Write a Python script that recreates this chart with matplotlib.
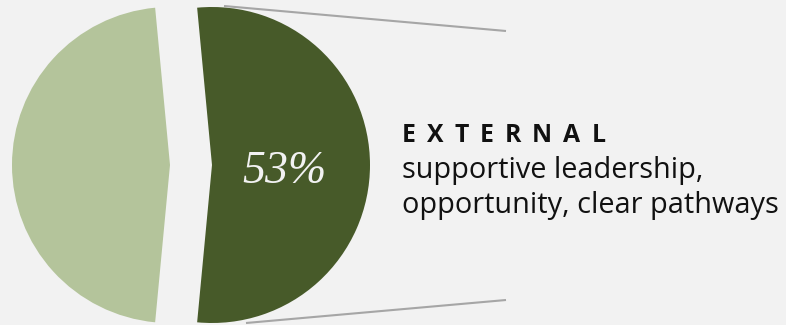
import matplotlib
matplotlib.use("Agg")
import matplotlib.pyplot as plt

# data
labels = ["External", "Internal"]
values = [53, 47]
colors = ["#475a29", "#b4c49b"]
pct_label = "53%"
title = "EXTERNAL"
subtitle = ["supportive leadership,", "opportunity, clear pathways"]

W, H = 786, 325
fig = plt.figure(figsize=(W / 100, H / 100), dpi=100, facecolor="#f2f2f2")
ax = fig.add_axes([0, 0, 1, 1])
ax.set_facecolor("#f2f2f2")

cx, cy, R = 191, 165, 158
half = values[0] / 100 * 360 / 2
ax.pie(values, colors=colors, startangle=-half, counterclock=True,
       radius=R, center=(cx, cy), explode=[21, 21],
       wedgeprops=dict(linewidth=0), frame=True)
ax.set_xlim(0, W)
ax.set_ylim(H, 0)
ax.set_aspect("equal")
ax.axis("off")

# connector lines
ax.plot([224, 506], [6, 31], color="#a6a6a6", lw=1.5, solid_capstyle="butt")
ax.plot([246, 506], [323, 300], color="#a6a6a6", lw=1.5, solid_capstyle="butt")

ax.text(284, 172, pct_label, family="Liberation Serif", style="italic",
        fontsize=33, color="#f2f2f2", ha="center", va="center")

# letter-spaced title
renderer = fig.canvas.get_renderer()
x = 402.0
for ch in title:
    t = ax.text(x, 142, ch, family="Open Sans", weight="bold",
                fontsize=17.8, color="#111111", ha="left", va="baseline")
    bb = t.get_window_extent(renderer)
    x += bb.width + 11

ax.text(402, 178, subtitle[0], family="Open Sans", fontsize=20.8,
        color="#111111", ha="left", va="baseline")
ax.text(402, 213, subtitle[1], family="Open Sans", fontsize=20.8,
        color="#111111", ha="left", va="baseline")

fig.savefig("out.png", dpi=100, facecolor="#f2f2f2")
